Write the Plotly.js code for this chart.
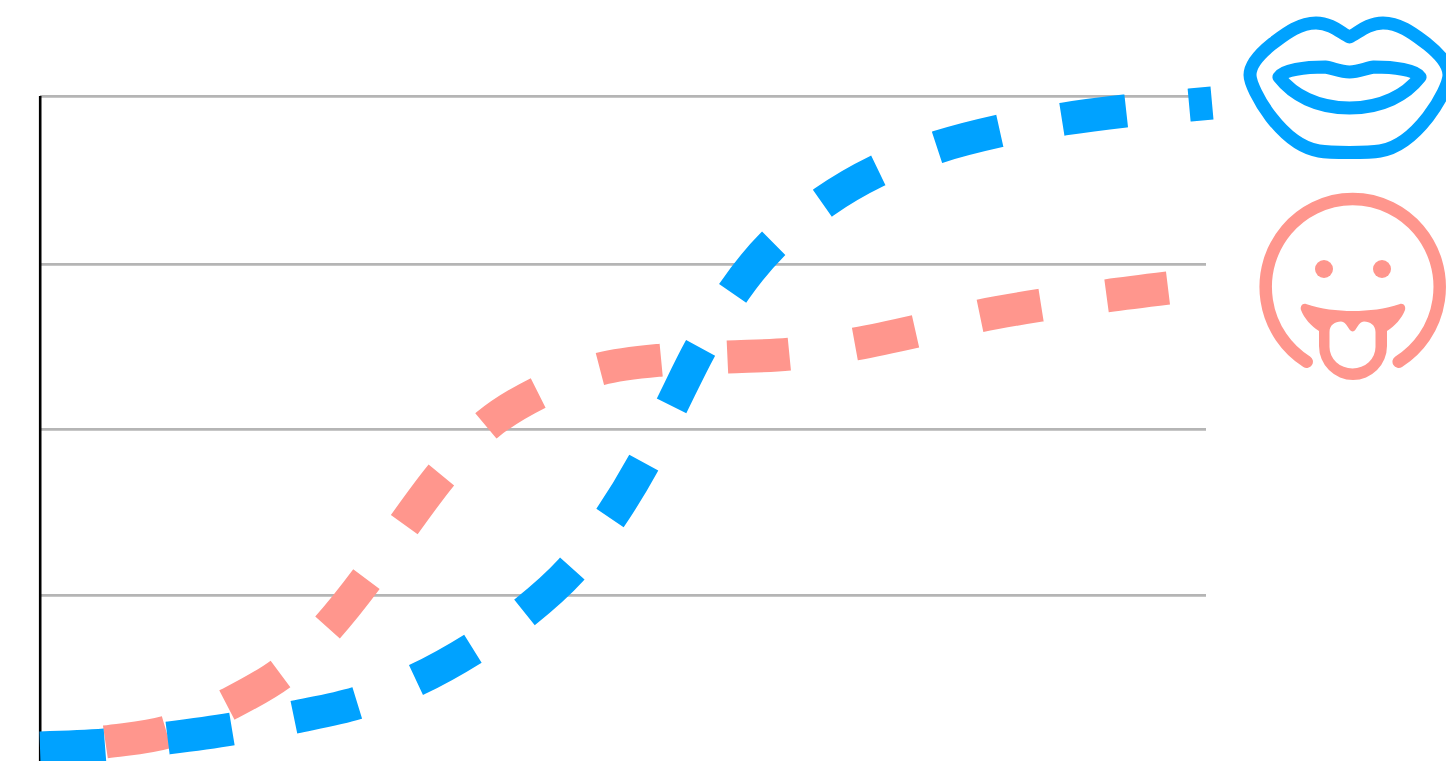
<!DOCTYPE html>
<html>
<head>
<meta charset="utf-8">
<script src="https://cdn.plot.ly/plotly-3.0.1.min.js"></script>
<style>html,body{margin:0;padding:0;background:#fff;overflow:hidden}</style>
</head>
<body>
<div id="chart" style="width:1446px;height:761px"></div>
<script>
const blueX = [0,65,128,192,255,317,376,434,485,531,570,603,632,660,695,732,784,837,898,959,1024,1085,1150,1172];
const blueY = [13,16,23,32,44,58,81,113,149,191,243,297,356,412,471,516,559,590,614,630,642,650,656,658];
const salmonX = [0,65,127,187,243,287,328,364,403,447,500,560,622,687,750,815,877,939,1002,1065,1128];
const salmonY = [10,19,29,56,89,133,184,236,288,336,369,392,401,404,407,417,430,445,456,465,473];
const gridValues = [165.6,331.6,496.6,664.6];
const gridEnd = 1166, axisTop = 665;
const BLUE = '#00a2ff', SALMON = '#ff968d';

const icons = `<svg xmlns="http://www.w3.org/2000/svg" width="210" height="380" viewBox="1236 5 210 380">
<g fill="none" stroke="${BLUE}" stroke-width="13" stroke-linejoin="round" stroke-linecap="round">
<path d="M1349.5,37 C1342,34 1332,23 1316,23 C1298,23 1283,36 1272,44 C1262,52 1250,64 1250,75 C1250,82 1258,100 1271,117 C1285,135 1300,148 1319,151 C1330,153 1369,153 1380,151 C1399,148 1414,135 1428,117 C1441,100 1449,82 1449,75 C1449,64 1437,52 1427,44 C1416,36 1401,23 1383,23 C1367,23 1357,34 1349.5,37 Z"/>
<path d="M1279,77 C1283,70 1305,67 1325,67 C1333,68 1340,72 1349.5,72 C1359,72 1366,68 1374,67 C1394,67 1416,70 1420,77 C1406,95 1382,108 1349.5,108 C1317,108 1293,95 1279,77 Z"/>
</g>
<path d="M1306.7,361.7 A87,88 0 1 1 1398.7,361.7" fill="none" stroke="${SALMON}" stroke-width="12.5" stroke-linecap="round"/>
<circle cx="1324" cy="269" r="9" fill="${SALMON}"/>
<circle cx="1382" cy="269" r="9" fill="${SALMON}"/>
<path d="M1306,304 C1321,309 1337,311 1353,311 C1369,311 1385,309 1400,304 C1404,303 1406,307 1405,310 C1402,318 1395,326 1387,331 L1387,346 A34,34 0 0 1 1319,346 L1319,331 C1311,326 1304,318 1301,310 C1300,307 1302,303 1306,304 Z" fill="${SALMON}"/>
<path d="M1329.5,347 L1329.5,332 C1329.5,325 1335,321.5 1341,321.5 C1347,321.5 1348,331 1352.7,331.5 C1357,331 1358,321.5 1364,321.5 C1370,321.5 1375.5,325 1375.5,332 L1375.5,347 A23,21.5 0 0 1 1329.5,347 Z" fill="#fff"/>
</svg>`;

const gridShapes = gridValues.map(v => ({type:'line', layer:'below', xref:'x', yref:'y', x0:0, x1:gridEnd, y0:v, y1:v, line:{color:'#b5b5b5', width:2.6}}));
const axisShape = {type:'line', layer:'below', xref:'x', yref:'y', x0:0.2, x1:0.2, y0:0, y1:axisTop, line:{color:'#000', width:2.6}};

const lineBase = {mode:'lines', hoverinfo:'skip'};
const traces = [
  {...lineBase, x:salmonX, y:salmonY, line:{color:SALMON, width:33, shape:'spline', smoothing:1, dash:'0px,66px,62px,0.3px'}},
  {...lineBase, x:blueX, y:blueY, line:{color:BLUE, width:33, shape:'spline', smoothing:1, dash:'65px,63.05px'}}
];
const layout = {
  width:1446, height:761, showlegend:false,
  margin:{l:0, r:0, t:0, b:0, pad:0},
  paper_bgcolor:'#fff', plot_bgcolor:'#fff',
  xaxis:{range:[-40,1406], showgrid:false, zeroline:false, showticklabels:false, ticks:'', showline:false, fixedrange:true},
  yaxis:{range:[0,761], showgrid:false, zeroline:false, showticklabels:false, ticks:'', showline:false, fixedrange:true},
  shapes:[...gridShapes, axisShape],
  images:[{source:'data:image/svg+xml;charset=utf-8,'+encodeURIComponent(icons), xref:'paper', yref:'paper',
           x:1236/1446, y:756/761, sizex:210/1446, sizey:380/761, xanchor:'left', yanchor:'top', sizing:'stretch', layer:'above'}]
};
Plotly.newPlot('chart', traces, layout, {displayModeBar:false, staticPlot:true});
</script>
</body>
</html>
